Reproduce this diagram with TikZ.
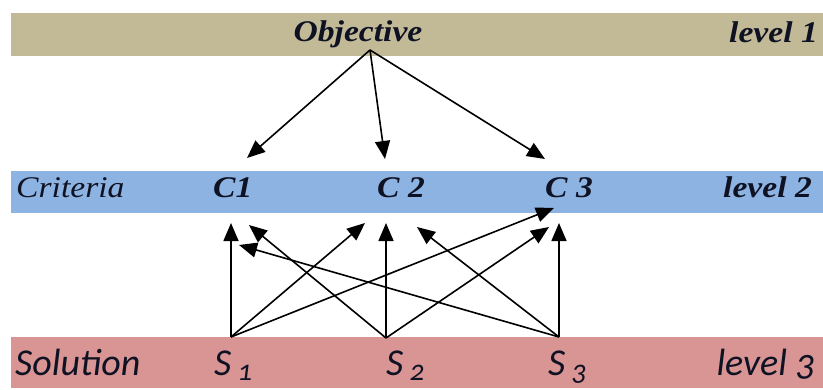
\documentclass[tikz,border=0pt]{standalone}
\usepackage{fontspec}
\usetikzlibrary{arrows.meta}
\newfontfamily\camfont{Liberation Serif}[FakeStretch=1.12]
\newfontfamily\calfont{Carlito}[Numbers=OldStyle]
\definecolor{bandA}{RGB}{194,185,151}
\definecolor{bandB}{RGB}{141,179,226}
\definecolor{bandC}{RGB}{217,149,148}
\definecolor{inkC}{RGB}{15,18,35}
\tikzset{
  band/.style={fill=#1, draw=none},
  serifbi/.style={inner sep=0pt, text=inkC, font=\camfont\fontsize{30}{30}\selectfont\bfseries\itshape},
  serifi/.style={inner sep=0pt, text=inkC, font=\camfont\fontsize{30}{30}\selectfont\itshape},
  sansi/.style={inner sep=0pt, text=inkC, font=\calfont\fontsize{38}{38}\selectfont\itshape},
  conn/.style={line width=1.6pt, -{Triangle[length=18pt,width=15pt]}}
}
\newcommand{\subidx}[1]{\,\raisebox{-5pt}{\fontsize{29}{29}\selectfont #1}}
\begin{document}
\begin{tikzpicture}[x=1pt,y=1pt]
\useasboundingbox (0,0) rectangle (823,389);
% bands
\fill[band=bandA] (11,333) rectangle (823,376);
\fill[band=bandB] (11,176) rectangle (823,218);
\fill[band=bandC] (11,1) rectangle (823,52);
% level 1
\node[serifbi, anchor=base] (obj) at (358,347) {Objective};
\node[serifbi, anchor=base east] (lv1) at (818,346) {level 1};
% level 2
\node[serifi, anchor=base west] (crit) at (16,191) {Criteria};
\node[serifbi, anchor=base west] (c1) at (213,191) {C1};
\node[serifbi, anchor=base west] (c2) at (377,191) {C 2};
\node[serifbi, anchor=base west] (c3) at (545,191) {C 3};
\node[serifbi, anchor=base east] (lv2) at (812,191) {level 2};
% level 3
\node[sansi, anchor=base west] (sol) at (15,14) {Solution};
\node[sansi, anchor=base west] (s1) at (214,14) {S\subidx{1}};
\node[sansi, anchor=base west] (s2) at (386,14) {S\subidx{2}};
\node[sansi, anchor=base west] (s3) at (548,14) {S\subidx{3}};
\node[sansi, anchor=base east] (lv3) at (815,14) {level 3};
% ports
\coordinate (objp) at (370,339);
\coordinate (c1t) at (247,231);
\coordinate (c2t) at (385,230);
\coordinate (c3t) at (545,230);
\coordinate (s1p) at (231,52);
\coordinate (s2p) at (386,51);
\coordinate (s3p) at (559,52);
\coordinate (c1a) at (231,166);
\coordinate (c1b) at (249,164);
\coordinate (c1c) at (239,144);
\coordinate (c2a) at (365,166);
\coordinate (c2b) at (386,166);
\coordinate (c2c) at (417,162);
\coordinate (c3a) at (554,181);
\coordinate (c3b) at (549,162);
\coordinate (c3c) at (559,166);
% top arrows
\draw[conn] (objp) -- (c1t);
\draw[conn] (objp) -- (c2t);
\draw[conn] (objp) -- (c3t);
% bottom arrows
\draw[conn] (s1p) -- (c1a);
\draw[conn] (s2p) -- (c1b);
\draw[conn] (s3p) -- (c1c);
\draw[conn] (s1p) -- (c2a);
\draw[conn] (s2p) -- (c2b);
\draw[conn] (s3p) -- (c2c);
\draw[conn] (s1p) -- (c3a);
\draw[conn] (s2p) -- (c3b);
\draw[conn] (s3p) -- (c3c);
\end{tikzpicture}
\end{document}
